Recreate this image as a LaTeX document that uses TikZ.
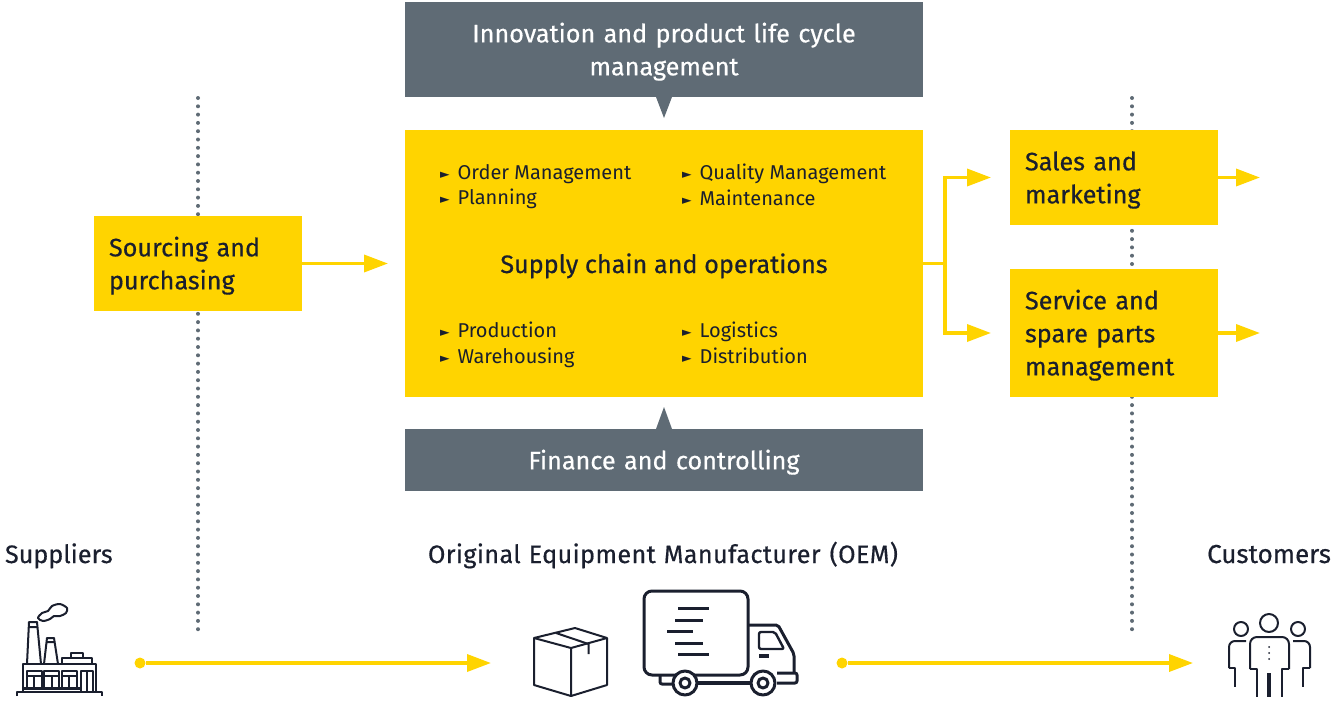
\documentclass[tikz,border=0pt]{standalone}
\usepackage{xcolor}
\usepackage{fontspec}
\setmainfont{Fira Sans}
\newfontfamily\boldish[FakeBold=0.5]{Fira Sans}
\newfontfamily\spacedish[FakeBold=0.5, LetterSpace=1.5]{Fira Sans}
\newfontfamily\symbolfont{DejaVu Sans}
\usepackage{tikz}
\usetikzlibrary{positioning, arrows.meta}
\definecolor{eyYellow}{HTML}{FFD400}
\definecolor{eySlate}{HTML}{5F6B75}
\definecolor{eyInk}{HTML}{1A1F2E}
\newcommand{\itemtri}{{\symbolfont\fontsize{12.5}{12.5}\selectfont\raisebox{1pt}{►}}\hspace{8pt}}
\begin{document}
\begin{tikzpicture}[
        x=1pt, y=-1pt,
        node distance=33pt,
        every node/.style={outer sep=0pt, inner sep=0pt},
        slatebox/.style={rectangle, minimum width=518pt, text width=470pt, align=center, fill=eySlate, text=white, font=\boldish\fontsize{25.2}{33}\selectfont, execute at begin node={\rule{0pt}{24pt}}},
        yellowbox/.style={rectangle, minimum width=208pt, text width=178pt, align=left, fill=eyYellow, text=eyInk, font=\boldish\fontsize{25.2}{33}\selectfont, execute at begin node={\rule{0pt}{24pt}}},
        heading/.style={text=eyInk, font=\boldish\fontsize{25.2}{28}\selectfont},
        tasks/.style={align=left, anchor=north west, text=eyInk, font=\fontsize{20}{25.5}\selectfont},
        arrow/.style={line width=3.5pt, eyYellow, -{Triangle[length=24pt, width=17pt]}},
        link/.style={line width=3.5pt, eyYellow},
        dotline/.style={line width=4pt, eySlate, line cap=round, dash pattern=on 0pt off 8.3pt},
        icon/.style={line width=2pt, eyInk, line join=round}
    ]
        \useasboundingbox (0,0) rectangle (1335,702);

        % ===== dotted borders =====
        \coordinate (leftTop) at (198,98);
        \coordinate (leftEnd) at (198,632);
        \coordinate (rightTop) at (1132,98);
        \coordinate (rightEnd) at (1132,632);
        \draw [dotline] (leftTop) -- (leftEnd);
        \draw [dotline] (rightTop) -- (rightEnd);

        % ===== boxes =====
        \node (innovation) [slatebox, minimum height=95pt, anchor=north] at (664,2) {Innovation and product life cycle\\management};
        \node (supply) [rectangle, fill=eyYellow, minimum width=518pt, minimum height=267pt, below=33pt of innovation] {};
        \node (finance) [slatebox, minimum height=62pt, below=32pt of supply] {Finance and controlling};
        \node (sourcing) [yellowbox, minimum height=95pt, anchor=west] at (94,263.5) {Sourcing and\\purchasing};
        \node (sales) [yellowbox, minimum height=95pt, anchor=north west] at (1010,130) {Sales and\\marketing};
        \node (service) [yellowbox, minimum height=128pt, below=44pt of sales] {Service and\\spare parts\\management};

        % ===== text in the supply box =====
        \node (supplyTitle) [heading, anchor=base] at (664,273) {Supply chain and operations};
        \node (orders) [tasks] at (440,164) {\itemtri Order Management\\\itemtri Planning};
        \node (quality) [tasks] at (682,164) {\itemtri Quality Management\\\itemtri Maintenance};
        \node (production) [tasks] at (440,322) {\itemtri Production\\\itemtri Warehousing};
        \node (logistics) [tasks] at (682,322) {\itemtri Logistics\\\itemtri Distribution};

        % ===== notches =====
        \fill [eySlate] ([xshift=-8pt]innovation.south) -- ([xshift=8pt]innovation.south) -- ([yshift=-21pt]innovation.south) -- cycle;
        \fill [eySlate] ([xshift=-8pt]finance.north) -- ([xshift=8pt]finance.north) -- ([yshift=22pt]finance.north) -- cycle;

        % ===== arrows =====
        \coordinate (branch) at (945,263.5);
        \coordinate (salesEnd) at (1260,177.5);
        \coordinate (serviceEnd) at (1260,333);
        \draw [arrow, shorten >=17pt] (sourcing) -- (supply);
        \draw [link] (supply.east) -- (branch);
        \draw [arrow, shorten >=19pt] (branch) |- (sales.west);
        \draw [arrow, shorten >=19pt] (branch) |- (service.west);
        \draw [arrow] (sales.east) -- (salesEnd);
        \draw [arrow] (service.east) -- (serviceEnd);

        % ===== lower row =====
        \node (suppliers) [heading, anchor=base west] at (5,563) {Suppliers};
        \node (oem) [heading, font=\spacedish\fontsize{25.2}{28}\selectfont, anchor=base] at (663,563) {Original\hspace{1pt} Equipment\hspace{1pt} Manufacturer\hspace{2pt} (OEM)};
        \node (customers) [heading, font=\boldish\fontsize{26}{28}\selectfont, anchor=base east] at (1331,563) {Customers};
        \node (dotA) [circle, fill=eyYellow, minimum size=11pt] at (140,663) {};
        \node (dotB) [circle, fill=eyYellow, minimum size=11pt] at (842,663) {};
        \coordinate (oemEnd) at (491,663);
        \coordinate (customerEnd) at (1193,663);
        \draw [arrow] (dotA) -- (oemEnd);
        \draw [arrow] (dotB) -- (customerEnd);

        % ===== factory =====
        \draw [icon] (17,696) -- (17,692) -- (102,692) -- (102,696);
        \draw [icon] (23,692) -- (23,664) -- (96,664) -- (96,692);
        \draw [icon] (27,664) -- (29,622) -- (37,622) -- (41,664) (28,627) -- (38,627);
        \draw [icon] (44,664) -- (47,638) -- (54,638) -- (58,664) (46,642) -- (55,642);
        \draw [icon] (62,664) -- (62,658) -- (92,658) -- (92,664) (71,658) -- (71,653) -- (83,653) -- (83,658);
        \draw [icon] (27,687) -- (27,671) -- (42,671) -- (42,687) (27,676) -- (42,676) (34,676) -- (34,687);
        \draw [icon] (44,687) -- (44,671) -- (59,671) -- (59,687) (44,676) -- (59,676) (52,676) -- (52,687);
        \draw [icon] (62,687) -- (62,671) -- (77,671) -- (77,687) (62,676) -- (77,676) (69,676) -- (69,687);
        \draw [icon] (81,692) -- (81,671) -- (93,671) -- (93,692) (87,671) -- (87,692);
        \draw [icon, line width=3pt] (23,688.5) -- (80,688.5);
        \draw [icon] plot [smooth cycle] coordinates {(38,618) (42,613) (48,611) (52,606) (60,604) (67,608) (66,613) (60,616) (54,616) (50,619) (43,621)};

        % ===== parcel =====
        \draw [icon] (534,638) -- (575,628) -- (607,638) -- (571,648) -- cycle;
        \draw [icon] (534,638) -- (534,685) -- (571,696) -- (607,685) -- (607,638) (571,648) -- (571,696);
        \draw [icon] (556,633) -- (588.5,644) -- (588.5,654);

        % ===== truck =====
        \draw [icon, line width=3pt, rounded corners=8pt] (644,591) rectangle (748,675);
        \draw [icon, line width=3pt] (678,608) -- (709,608) (675,620) -- (703,620) (667,631) -- (693,631) (675,643) -- (703,643) (678,654) -- (709,654);
        \draw [icon, line width=3pt, rounded corners=2pt] (748,625) -- (778,625) -- (794,654) -- (794,673);
        \draw [icon, line width=3pt, rounded corners=2pt] (777,673) -- (797,673) -- (797,683) -- (777,683);
        \draw [icon, line width=3pt, rounded corners=2pt] (660,675) -- (660,684) -- (673,684);
        \draw [icon, line width=3.5pt] (697,683) -- (752,683);
        \draw [icon, line width=2.4pt, rounded corners=2pt] (759,632) -- (775,632) -- (784,649) -- (759,649) -- cycle;
        \draw [icon, line width=3.5pt] (759,656) -- (769,656);
        \draw [icon, line width=3pt, fill=white] (685,683) circle [radius=12];
        \draw [icon, line width=3pt] (685,683) circle [radius=5];
        \draw [icon, line width=3pt, fill=white] (763,683) circle [radius=12];
        \draw [icon, line width=3pt] (763,683) circle [radius=5];

        % ===== people =====
        \draw [icon] (1269,623) circle [radius=9];
        \draw [icon] (1241,629) circle [radius=7];
        \draw [icon] (1298,629) circle [radius=7];
        \draw [icon, rounded corners=7pt] (1250,669) -- (1250,637) -- (1289,637) -- (1289,669);
        \draw [icon] (1250,669) -- (1257,669) -- (1257,697) (1289,669) -- (1282,669) -- (1282,697);
        \draw [icon, line width=3.5pt] (1269,673) -- (1269,697);
        \draw [icon, rounded corners=6pt] (1229,668) -- (1229,641) -- (1246,641);
        \draw [icon] (1229,668) -- (1235,668) -- (1235,687);
        \draw [icon, rounded corners=6pt] (1310,668) -- (1310,641) -- (1293,641);
        \draw [icon] (1310,668) -- (1303,668) -- (1303,687);
        \fill [eyInk] (1269,647) circle [radius=1] (1269,653) circle [radius=1] (1269,659) circle [radius=1];

    \end{tikzpicture}
\end{document}
